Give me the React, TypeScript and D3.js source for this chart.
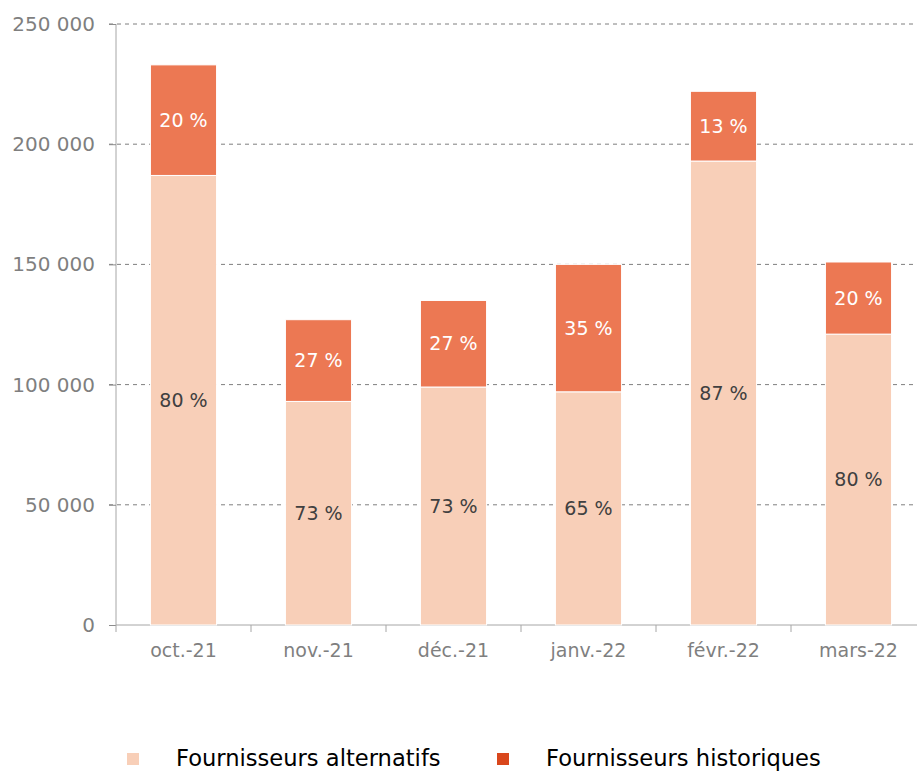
import React, { useEffect, useRef } from "react";
import * as d3 from "d3";

const months = ["oct.-21", "nov.-21", "déc.-21", "janv.-22", "févr.-22", "mars-22"];
const alternatifs = [187000, 93000, 99000, 97000, 193000, 121000];
const historiques = [46000, 34000, 36000, 53000, 29000, 30000];
const altPct = ["80 %", "73 %", "73 %", "65 %", "87 %", "80 %"];
const histPct = ["20 %", "27 %", "27 %", "35 %", "13 %", "20 %"];
const yTicks = [0, 50000, 100000, 150000, 200000, 250000];
const seriesNames = ["Fournisseurs alternatifs", "Fournisseurs historiques"];

const App = () => {
  const svgRef = useRef<SVGSVGElement>(null);
  const width = 917, height = 772;
  const left = 116, top = 24, bottom = 625;
  const font = "'DejaVu Sans', sans-serif";

  useEffect(() => {
    const svg = d3.select(svgRef.current);
    svg.selectAll("*").remove();

    const x = d3.scaleBand().domain(months).range([left, left + 135 * 6]).paddingInner(0.51).paddingOuter(0.255);
    const y = d3.scaleLinear().domain([0, 250000]).range([bottom, top]);

    // gridlines
    svg.append("g")
      .selectAll("line")
      .data(yTicks.slice(1))
      .enter()
      .append("line")
      .attr("x1", left - 7)
      .attr("x2", width)
      .attr("y1", d => y(d))
      .attr("y2", d => y(d))
      .attr("stroke", "#7f7f7f")
      .attr("stroke-dasharray", "4,4");

    // y axis
    const yAxis = svg.append("g")
      .attr("transform", `translate(${left},0)`)
      .call(d3.axisLeft(y).tickValues(yTicks).tickSize(7).tickPadding(14)
        .tickFormat(d => d3.format(",")(d as number).replace(/,/g, " ")));
    yAxis.select(".domain").attr("stroke", "#a6a6a6").attr("d", `M0,${top}V${bottom}`);
    yAxis.selectAll(".tick line").attr("stroke", "#8c8c8c");
    yAxis.selectAll("text").attr("fill", "#7f7f7f").attr("font-size", 20).attr("font-family", font);

    // x axis
    const xAxis = svg.append("g")
      .attr("transform", `translate(0,${bottom})`)
      .call(d3.axisBottom(x).tickSize(0).tickPadding(19));
    xAxis.select(".domain").attr("stroke", "#a6a6a6").attr("d", `M${left},0H${width}`);
    xAxis.selectAll("text").attr("fill", "#7f7f7f").attr("font-size", 19).attr("font-family", font);
    svg.append("g")
      .selectAll("line")
      .data(d3.range(7))
      .enter()
      .append("line")
      .attr("x1", i => left + x.step() * i)
      .attr("x2", i => left + x.step() * i)
      .attr("y1", bottom)
      .attr("y2", bottom + 7)
      .attr("stroke", "#a6a6a6");

    // bars
    const g = svg.append("g");
    months.forEach((m, i) => {
      const a = alternatifs[i], h = historiques[i];
      g.append("rect")
        .attr("x", x(m)!)
        .attr("width", x.bandwidth())
        .attr("y", y(a))
        .attr("height", y(0) - y(a))
        .attr("fill", "#f8cfb8")
        .attr("stroke", "#fff")
        .attr("stroke-width", 1);
      g.append("rect")
        .attr("x", x(m)!)
        .attr("width", x.bandwidth())
        .attr("y", y(a + h))
        .attr("height", y(a) - y(a + h))
        .attr("fill", "#ec7853")
        .attr("stroke", "#fff")
        .attr("stroke-width", 1);
      g.append("text")
        .attr("x", x(m)! + x.bandwidth() / 2)
        .attr("y", (y(a) + y(0)) / 2)
        .attr("dy", "0.35em")
        .attr("text-anchor", "middle")
        .attr("fill", "#404040")
        .attr("font-size", 19)
        .attr("font-family", font)
        .text(altPct[i]);
      g.append("text")
        .attr("x", x(m)! + x.bandwidth() / 2)
        .attr("y", (y(a) + y(a + h)) / 2)
        .attr("dy", "0.35em")
        .attr("text-anchor", "middle")
        .attr("fill", "#fff")
        .attr("font-size", 19)
        .attr("font-family", font)
        .text(histPct[i]);
    });

    // legend
    const legendColors = ["#f8cfb8", "#d9471c"];
    const legendX = [127, 497];
    seriesNames.forEach((name, i) => {
      svg.append("rect")
        .attr("x", legendX[i])
        .attr("y", 753)
        .attr("width", 12)
        .attr("height", 12)
        .attr("fill", legendColors[i]);
      svg.append("text")
        .attr("x", legendX[i] + 49)
        .attr("y", 766)
        .attr("fill", "#000")
        .attr("font-size", 22.6)
        .attr("font-family", font)
        .text(name);
    });
  }, []);

  return (
    <div style={{ position: "absolute", left: 0, top: 0 }}>
      <svg ref={svgRef} width={width} height={height}></svg>
    </div>
  );
};

export default App;
